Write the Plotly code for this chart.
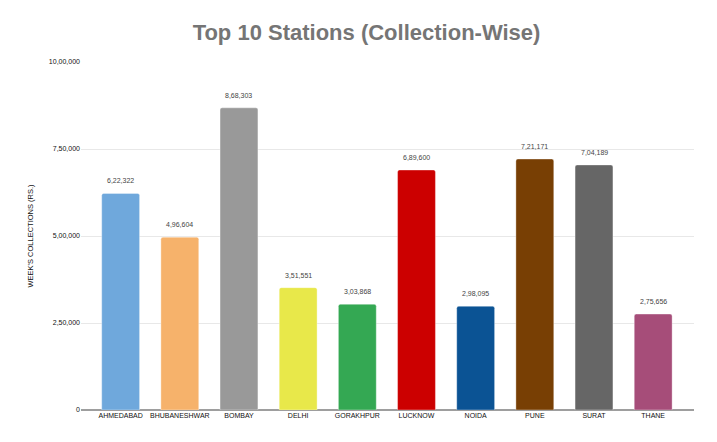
import plotly.graph_objects as go

stations = ["AHMEDABAD", "BHUBANESHWAR", "BOMBAY", "DELHI", "GORAKHPUR",
            "LUCKNOW", "NOIDA", "PUNE", "SURAT", "THANE"]
collections = [622322, 496604, 868303, 351551, 303868,
               689600, 298095, 721171, 704189, 275656]
bar_colors = ["#6fa8dc", "#f6b26b", "#999999", "#e8e84a", "#34a853",
              "#cc0000", "#0b5394", "#783f04", "#666666", "#a64d79"]
y_ticks = [0, 250000, 500000, 750000, 1000000]


def indian(n):
    s = str(int(n))
    if len(s) <= 3:
        return s
    head, tail = s[:-3], s[-3:]
    parts = []
    while len(head) > 2:
        parts.insert(0, head[-2:])
        head = head[:-2]
    if head:
        parts.insert(0, head)
    return ",".join(parts) + "," + tail


fig = go.Figure(go.Bar(
    x=stations, y=collections,
    marker=dict(color=bar_colors, cornerradius=2,
                line=dict(color="rgba(255,255,255,0.35)", width=1)),
    width=0.64,
    hoverinfo="x+y",
))

# value labels sit a little above each bar
for st, v in zip(stations, collections):
    fig.add_annotation(x=st, y=v, text=indian(v), showarrow=False,
                       yanchor="bottom", yshift=7,
                       font=dict(size=7, color="#444444", family="Arial"))

fig.update_layout(
    width=717, height=442,
    margin=dict(l=73, r=31, t=54, b=40, autoexpand=False),
    paper_bgcolor="white", plot_bgcolor="white",
    font=dict(family="Arial", size=8, color="#222222"),
    title=dict(text="<b>Top 10 Stations (Collection-Wise)</b>", x=0.5, y=0.946,
               xanchor="center", yanchor="middle",
               font=dict(size=22, color="#757575", family="Arial")),
    showlegend=False,
)
fig.update_xaxes(range=[-0.67, 9.69], showgrid=False, ticks="",
                 tickangle=0, automargin=False,
                 tickfont=dict(size=7, color="#111111"),
                 showline=False)
fig.update_yaxes(range=[0, 1000000], tickvals=y_ticks,
                 ticktext=[indian(v) for v in y_ticks],
                 automargin=False,
                 gridcolor="#e8e8e8", gridwidth=1,
                 zeroline=True, zerolinecolor="#9e9e9e", zerolinewidth=1.5,
                 tickfont=dict(size=7, color="#111111"), ticks="",
                 title=dict(text="WEEK'S COLLECTIONS (RS.)", standoff=14,
                            font=dict(size=7.5, color="#111111")))

fig.write_html("out.html")
